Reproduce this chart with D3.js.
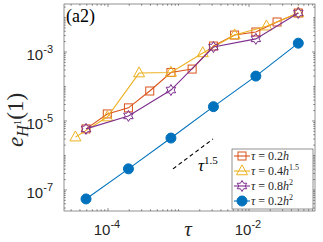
<!DOCTYPE html>
<html><head><meta charset="utf-8">
<script src="https://cdn.jsdelivr.net/npm/d3@7"></script>
<style>html,body{margin:0;padding:0;background:#fff;overflow:hidden}</style>
</head><body>
<svg id="c" width="323" height="242"></svg>
<script>
// ---- data ----
const tauRed = [4.88e-5, 9.77e-5, 1.95e-4, 3.91e-4, 7.81e-4, 1.56e-3, 3.13e-3, 6.25e-3, 1.25e-2, 2.5e-2, 5e-2];
const errRed = [5.9e-6, 1.6e-5, 2.4e-5, 7.4e-5, 2.55e-4, 3.2e-4, 1.49e-3, 3.1e-3, 3.8e-3, 7.4e-3, 1.35e-2];
const tauYel = [3.45e-5, 9.77e-5, 2.76e-4, 7.81e-4, 2.21e-3, 6.25e-3, 1.768e-2, 5e-2];
const errYel = [3.4e-6, 1.3e-5, 2.45e-4, 2.55e-4, 9.4e-4, 3.1e-3, 5.6e-3, 1.35e-2];
const tauPur = [4.88e-5, 1.95e-4, 7.81e-4, 3.13e-3, 1.25e-2, 5e-2];
const errPur = [5.9e-6, 1.4e-5, 7.9e-5, 1.39e-3, 2.4e-3, 1.35e-2];
const tauBlu = [4.88e-5, 1.95e-4, 7.81e-4, 3.13e-3, 1.25e-2, 5e-2];
const errBlu = [5.5e-8, 4.1e-7, 3.2e-6, 2.6e-5, 2.0e-4, 1.8e-3];
const refTau = [8.35e-4, 3.08e-3];
const refErr = [4.1e-7, 3.0e-6];
const xTickVals = [1e-4, 1e-2];
const xTickExp = ["-4", "-2"];
const yTickVals = [1e-7, 1e-5, 1e-3];
const yTickExp = ["-7", "-5", "-3"];
const legendLabels = [["0.2", "h", ""], ["0.4", "h", "1.5"], ["0.8", "h", "2"], ["0.2", "h", "2"]];
const colors = ["#D95319", "#EDB120", "#7E2F8E", "#0072BD"];

// ---- layout ----
const L = 64, R = 315, T = 4, B = 211;
const svg = d3.select("#c");
const x = d3.scaleLog().domain([Math.pow(10, -4.624), Math.pow(10, -1.064)]).range([L, R]);
const y = d3.scaleLog().domain([Math.pow(10, -7.609), Math.pow(10, -1.609)]).range([B, T]);
const axCol = "#262626";
const serif = "Liberation Serif, Times New Roman, serif";
const sans = "Liberation Sans, Arial, sans-serif";

// frame + ticks
const g = svg.append("g");
g.append("rect").attr("x", L).attr("y", T).attr("width", R - L).attr("height", B - T)
  .attr("fill", "none").attr("stroke", axCol).attr("stroke-width", 0.5);

function minorTicks(scale) {
  const [a, b] = scale.domain();
  const out = [];
  for (let e = Math.floor(Math.log10(a)); e <= Math.ceil(Math.log10(b)); e++) {
    for (let m = 1; m <= 9; m++) { const v = m * Math.pow(10, e); if (v >= a && v <= b) out.push(v); }
  }
  return out;
}
const xm = minorTicks(x), ym = minorTicks(y);
xm.forEach(v => {
  const px = x(v), len = xTickVals.includes(v) ? 3 : 1.8;
  g.append("line").attr("x1", px).attr("x2", px).attr("y1", B).attr("y2", B - len).attr("stroke", axCol).attr("stroke-width", 0.5);
  g.append("line").attr("x1", px).attr("x2", px).attr("y1", T).attr("y2", T + len).attr("stroke", axCol).attr("stroke-width", 0.5);
});
ym.forEach(v => {
  const py = y(v), len = yTickVals.includes(v) ? 3 : 1.8;
  g.append("line").attr("y1", py).attr("y2", py).attr("x1", L).attr("x2", L + len).attr("stroke", axCol).attr("stroke-width", 0.5);
  g.append("line").attr("y1", py).attr("y2", py).attr("x1", R).attr("x2", R - len).attr("stroke", axCol).attr("stroke-width", 0.5);
});

// tick labels
xTickVals.forEach((v, i) => {
  const t = svg.append("text").attr("x", x(v) - 1).attr("y", 235).attr("text-anchor", "middle")
    .attr("font-family", sans).attr("font-size", 15).attr("fill", axCol);
  t.append("tspan").text("10");
  t.append("tspan").attr("dy", -7).attr("font-size", 11).text(xTickExp[i]);
});
yTickVals.forEach((v, i) => {
  const t = svg.append("text").attr("x", 53).attr("y", y(v) + 8).attr("text-anchor", "end")
    .attr("font-family", sans).attr("font-size", 15).attr("fill", axCol);
  t.append("tspan").text("10");
  t.append("tspan").attr("dy", -7).attr("font-size", 11).text(yTickExp[i]);
});

// axis labels
svg.append("text").attr("x", 188).attr("y", 236).attr("text-anchor", "middle")
  .attr("font-family", serif).attr("font-style", "italic").attr("font-size", 21).attr("fill", axCol).text("τ");
const yl = svg.append("text").attr("transform", "translate(23,120) rotate(-90)").attr("text-anchor", "middle")
  .attr("font-family", serif).attr("font-size", 23).attr("fill", axCol);
yl.append("tspan").attr("font-style", "italic").text("e");
yl.append("tspan").attr("font-style", "italic").attr("font-size", 16).attr("dy", 5).text("H");
yl.append("tspan").attr("font-size", 11).attr("dy", -7).text("1");
yl.append("tspan").attr("dy", 2).text("(1)");

// panel tag
svg.append("text").attr("x", 66).attr("y", 22).attr("font-family", serif).attr("font-size", 18).attr("fill", "#000").text("(a2)");

// markers
function marker(sel, type, color, s) {
  if (type === "square") {
    sel.append("rect").attr("x", -s / 2).attr("y", -s / 2).attr("width", s).attr("height", s)
      .attr("fill", "none").attr("stroke", color).attr("stroke-width", 1);
  } else if (type === "tri") {
    const h = s * 0.9;
    sel.append("path").attr("d", `M0,${-h * 0.62}L${s / 2},${h * 0.38}L${-s / 2},${h * 0.38}Z`)
      .attr("fill", "none").attr("stroke", color).attr("stroke-width", 1);
  } else if (type === "hex") {
    const Ro = s / 2, ri = Ro / Math.sqrt(3); let d = "";
    for (let k = 0; k < 12; k++) {
      const r = k % 2 === 0 ? Ro : ri, a = -Math.PI / 2 + k * Math.PI / 6;
      d += (k === 0 ? "M" : "L") + (r * Math.cos(a)).toFixed(2) + "," + (r * Math.sin(a)).toFixed(2);
    }
    sel.append("path").attr("d", d + "Z").attr("fill", "none").attr("stroke", color).attr("stroke-width", 1);
  } else {
    sel.append("circle").attr("r", s / 2).attr("fill", color).attr("stroke", color).attr("stroke-width", 1);
  }
}

const series = [
  { t: tauRed, e: errRed, type: "square", s: 8 },
  { t: tauYel, e: errYel, type: "tri", s: 11 },
  { t: tauPur, e: errPur, type: "hex", s: 11 },
  { t: tauBlu, e: errBlu, type: "circle", s: 10 }
];
const line = d3.line().x(d => x(d[0])).y(d => y(d[1]));
series.forEach((sr, i) => {
  const pts = sr.t.map((t, j) => [t, sr.e[j]]);
  svg.append("path").datum(pts).attr("d", line).attr("fill", "none").attr("stroke", colors[i]).attr("stroke-width", 1.1);
  pts.forEach(p => marker(svg.append("g").attr("transform", `translate(${x(p[0])},${y(p[1])})`), sr.type, colors[i], sr.s));
});

// reference slope
svg.append("path").datum(refTau.map((t, j) => [t, refErr[j]])).attr("d", line)
  .attr("fill", "none").attr("stroke", "#000").attr("stroke-width", 1.1).attr("stroke-dasharray", "4,3");
const rt = svg.append("text").attr("x", 198).attr("y", 171).attr("font-family", serif).attr("font-size", 17).attr("fill", "#000");
rt.append("tspan").attr("font-style", "italic").text("τ");
rt.append("tspan").attr("font-size", 11).attr("dy", -7).text("1.5");

// legend
const lg = svg.append("g");
lg.append("rect").attr("x", 232).attr("y", 149).attr("width", 81).attr("height", 60)
  .attr("fill", "#fff").attr("stroke", axCol).attr("stroke-width", 0.5);
legendLabels.forEach((lb, i) => {
  const cy = 156 + i * 15;
  lg.append("line").attr("x1", 234).attr("x2", 250).attr("y1", cy).attr("y2", cy).attr("stroke", colors[i]).attr("stroke-width", 1.1);
  marker(lg.append("g").attr("transform", `translate(242,${cy})`), series[i].type, colors[i], series[i].s);
  const t = lg.append("text").attr("x", 251).attr("y", cy + 4).attr("font-family", serif).attr("font-size", 12).attr("fill", axCol);
  t.append("tspan").attr("font-style", "italic").text("τ");
  t.append("tspan").text(" = " + lb[0]);
  t.append("tspan").attr("font-style", "italic").text(lb[1]);
  if (lb[2]) t.append("tspan").attr("font-size", 8).attr("dy", -5).text(lb[2]);
});
</script>
</body></html>
